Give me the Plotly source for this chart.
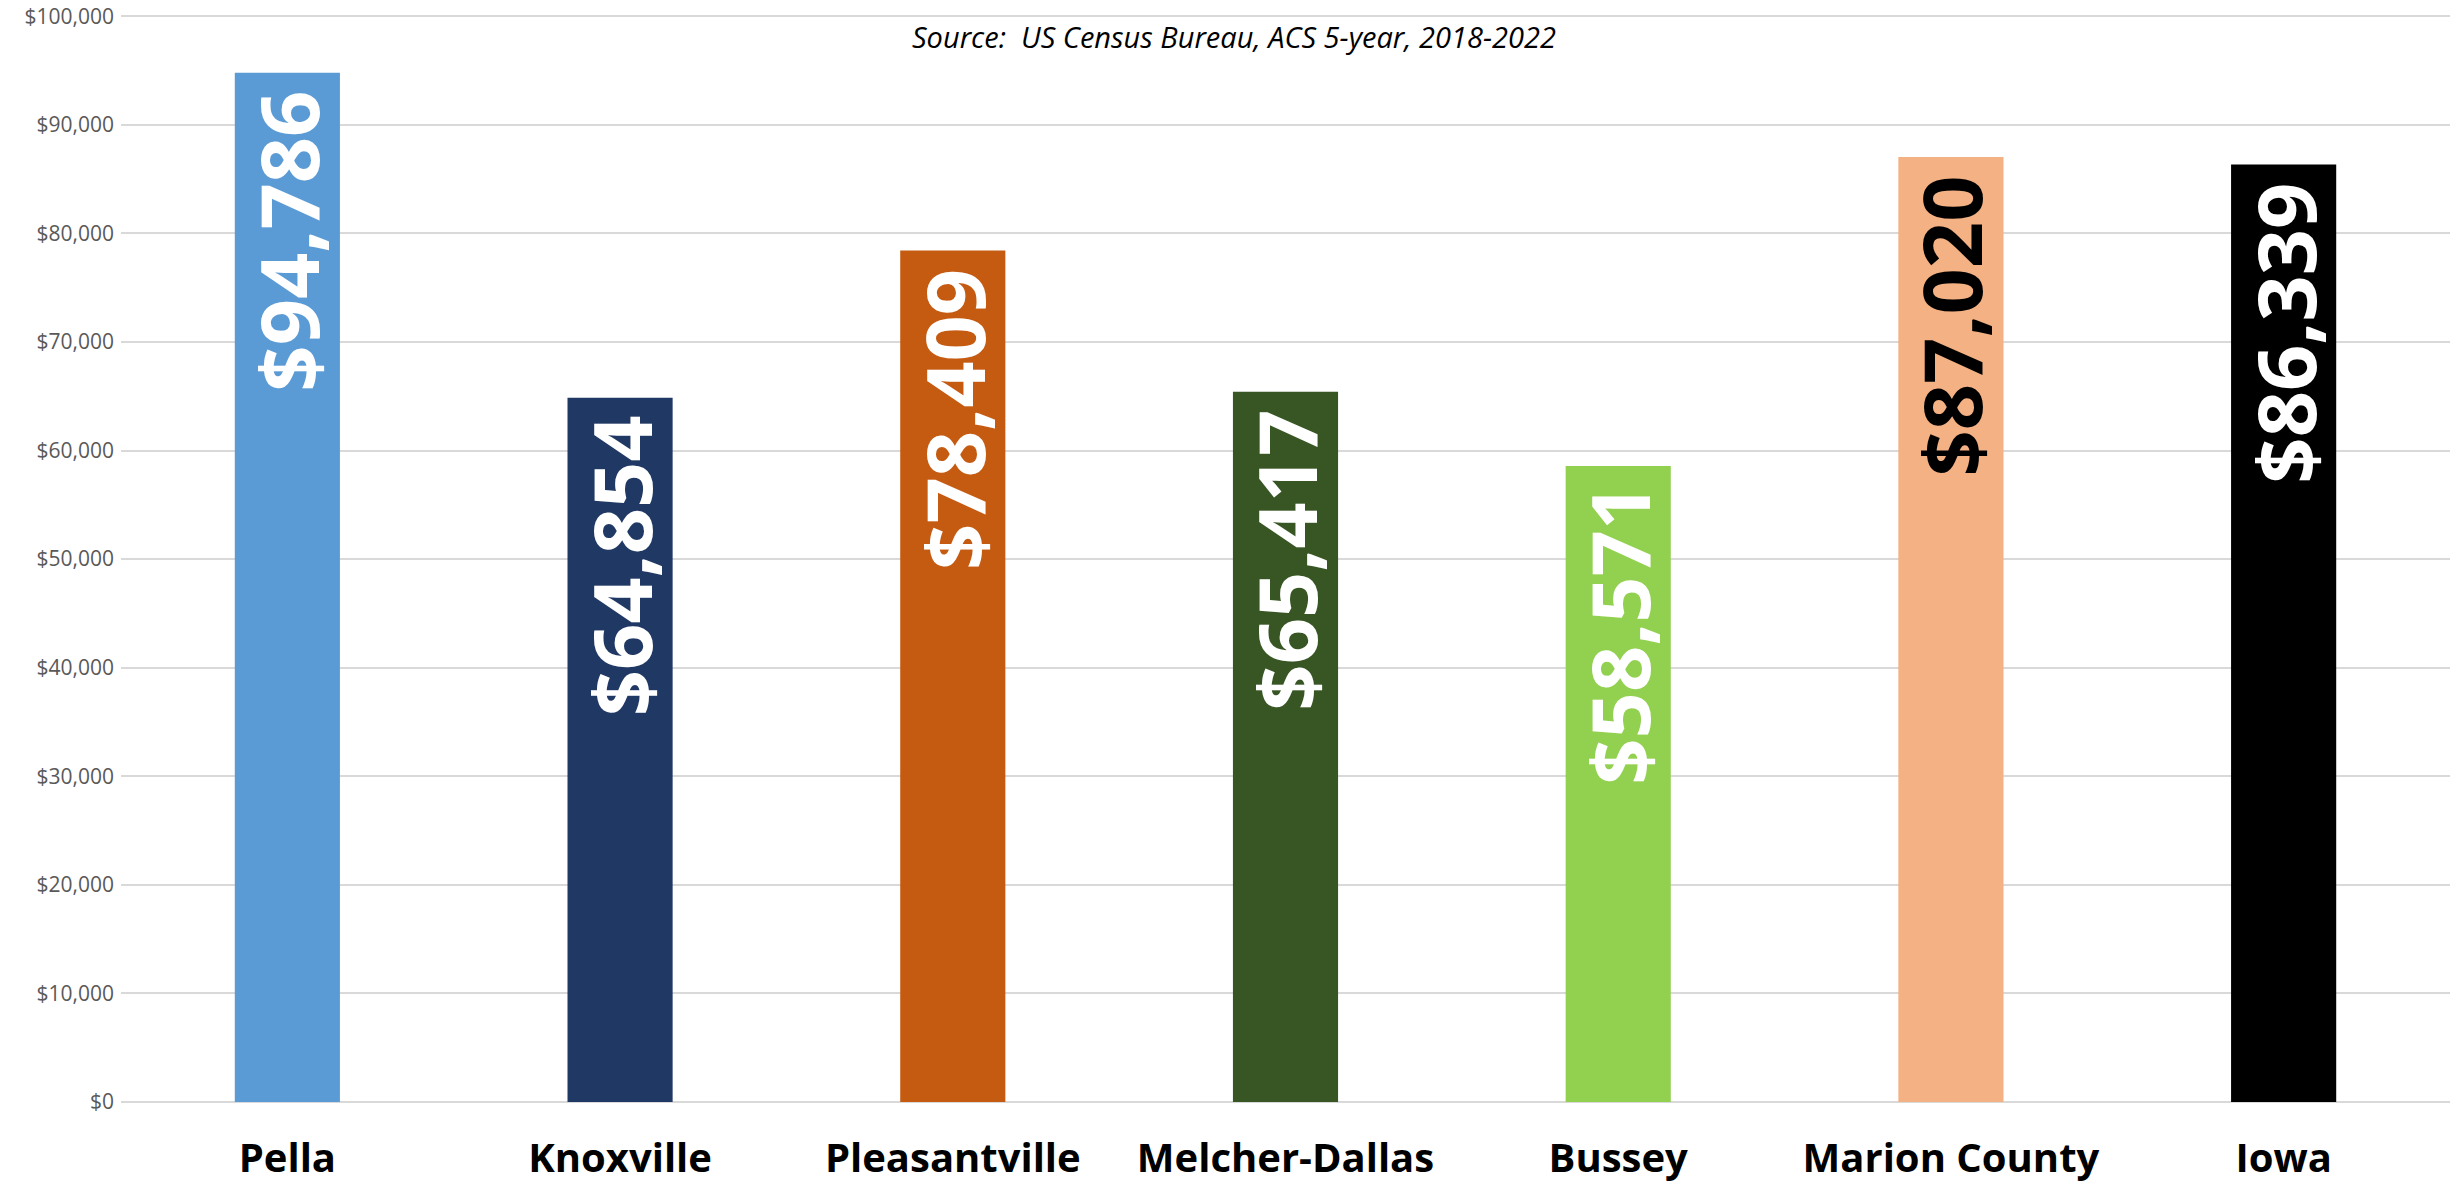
import plotly.graph_objects as go

categories = ["Pella", "Knoxville", "Pleasantville", "Melcher-Dallas", "Bussey", "Marion County", "Iowa"]
income = [94786, 64854, 78409, 65417, 58571, 87020, 86339]
bar_colors = ["#5B9BD5", "#203864", "#C55A11", "#375623", "#92D050", "#F4B183", "#000000"]
label_colors = ["#FFFFFF", "#FFFFFF", "#FFFFFF", "#FFFFFF", "#FFFFFF", "#000000", "#FFFFFF"]
y_ticks = [0, 10000, 20000, 30000, 40000, 50000, 60000, 70000, 80000, 90000, 100000]
y_tick_text = ["$0", "$10,000", "$20,000", "$30,000", "$40,000", "$50,000",
               "$60,000", "$70,000", "$80,000", "$90,000", "$100,000"]
source_text = "Source:  US Census Bureau, ACS 5-year, 2018-2022"

W, H = 2460, 1187
ML, MR, MT, MB = 121, 10, 14, 85
plot_w = W - ML - MR
plot_h = H - MT - MB

fig = go.Figure()
fig.add_trace(go.Bar(
    x=categories,
    y=income,
    marker=dict(color=bar_colors, line=dict(width=0)),
    showlegend=False,
    hoverinfo="x+y",
))

for cat, val, col in zip(categories, income, label_colors):
    fig.add_annotation(
        x=cat, y=val, xref="x", yref="y",
        text="${:,}".format(val),
        textangle=-90,
        showarrow=False,
        xanchor="center", yanchor="top",
        yshift=-16,
        font=dict(family="Open Sans", size=81, color=col, weight="bold"),
    )

fig.add_annotation(
    xref="paper", x=(1234 - ML) / plot_w,
    yref="paper", y=1 - (37 - MT) / plot_h,
    xanchor="center", yanchor="middle",
    text=source_text, showarrow=False,
    font=dict(family="Open Sans", size=29, color="#000000", style="italic"),
)

fig.update_layout(
    width=W, height=H,
    margin=dict(l=ML, r=MR, t=MT, b=MB, pad=0, autoexpand=False),
    paper_bgcolor="#FFFFFF",
    plot_bgcolor="#FFFFFF",
    bargap=0.684,
    font=dict(family="Open Sans"),
    xaxis=dict(
        showgrid=False, showline=False, zeroline=False, ticks="",
        automargin=False,
        tickfont=dict(family="Open Sans", size=40, color="#000000", weight="bold"),
        ticklabelstandoff=29,
    ),
    yaxis=dict(
        range=[0, 100200], autorange=False,
        tickmode="array", tickvals=y_ticks, ticktext=y_tick_text,
        automargin=False,
        ticklabeloverflow="allow",
        showgrid=True, gridcolor="#D9D9D9", gridwidth=1.5,
        zeroline=True, zerolinecolor="#D9D9D9", zerolinewidth=1.5,
        showline=False, ticks="",
        tickfont=dict(family="Open Sans", size=21, color="#595959"),
        ticklabelstandoff=6,
    ),
)

fig.write_html("out.html", config={"displayModeBar": False},
               post_script="document.body.style.margin='0';")
